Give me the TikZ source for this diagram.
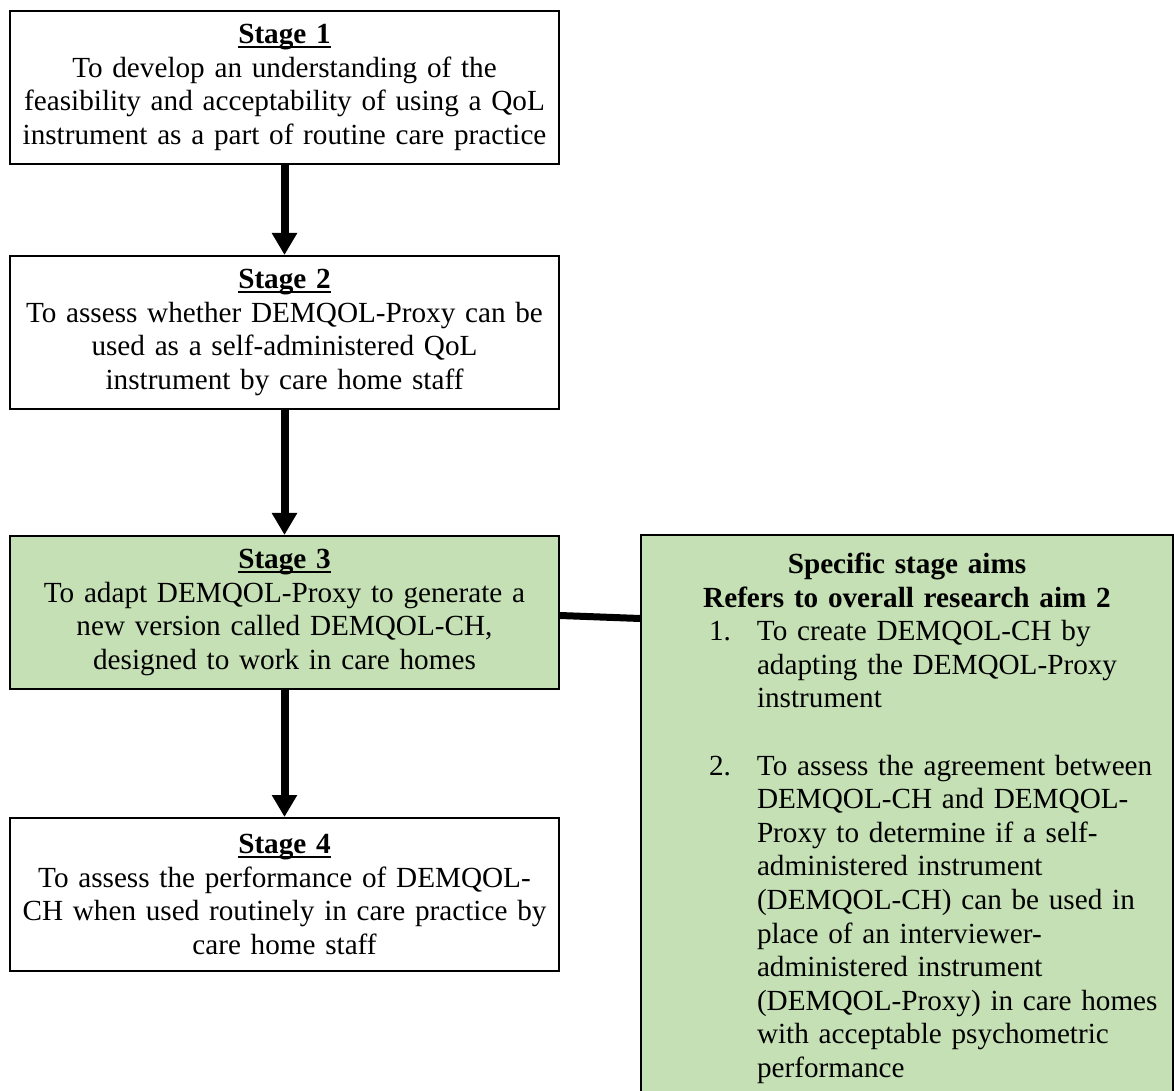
\documentclass[tikz,border=0pt]{standalone}
\usepackage{fontspec}
\setmainfont{Liberation Serif}
\usetikzlibrary{arrows.meta}

\definecolor{aimgreen}{HTML}{C5E0B4}

\newsavebox{\headbox}
\newcommand{\stagehead}[1]{\sbox{\headbox}{\textbf{#1}}\rlap{\rule[-2.4pt]{\wd\headbox}{1pt}}\usebox{\headbox}}
\newlength{\aimswd}
\setlength{\aimswd}{266pt}
\newcommand{\aimline}[2]{\makebox[\aimswd][l]{\hspace{34pt}\makebox[24pt][l]{#1}#2}}

\tikzset{
  every node/.style={font=\fontsize{14.6pt}{16.8pt}\selectfont},
  stagebox/.style={draw=black,line width=1pt,fill=white,anchor=north west,
    inner sep=0pt,text width=274.5pt,minimum height=76.5pt,align=center},
  aimsbox/.style={draw=black,line width=1pt,fill=aimgreen,anchor=north west,
    inner xsep=0pt,inner ysep=9pt,text width=266pt,align=center},
  stagearrow/.style={line width=4pt,-{Triangle[width=12pt,length=11pt]}},
  aimslink/.style={line width=3.5pt}
}

\begin{document}
\begin{tikzpicture}[x=0.5pt,y=-0.5pt]
  \clip (0,0) rectangle (1174,1091);
  \fill[white] (0,0) rectangle (1174,1091);

  % stages
  \node[stagebox] (s1) at (9,10) {\stagehead{Stage 1}\\
    To develop an understanding of the\\
    feasibility and acceptability of using a QoL\\
    instrument as a part of routine care practice};
  \node[stagebox] (s2) at (9,255) {\stagehead{Stage 2}\\
    To assess whether DEMQOL-Proxy can be\\
    used as a self-administered QoL\\
    instrument by care home staff};
  \node[stagebox,fill=aimgreen] (s3) at (9,535) {\stagehead{Stage 3}\\
    To adapt DEMQOL-Proxy to generate a\\
    new version called DEMQOL-CH,\\
    designed to work in care homes};
  \node[stagebox] (s4) at (9,817) {\stagehead{Stage 4}\\
    To assess the performance of DEMQOL-\\
    CH when used routinely in care practice by\\
    care home staff};

  % aims of stage 3
  \node[aimsbox] (aims) at (640,534) {\textbf{Specific stage aims}\\
    \textbf{Refers to overall research aim 2}\\
    \aimline{1.}{To create DEMQOL-CH by}\\
    \aimline{}{adapting the DEMQOL-Proxy}\\
    \aimline{}{instrument}\\
    \aimline{}{}\\
    \aimline{2.}{To assess the agreement between}\\
    \aimline{}{DEMQOL-CH and DEMQOL-}\\
    \aimline{}{Proxy to determine if a self-}\\
    \aimline{}{administered instrument}\\
    \aimline{}{(DEMQOL-CH) can be used in}\\
    \aimline{}{place of an interviewer-}\\
    \aimline{}{administered instrument}\\
    \aimline{}{(DEMQOL-Proxy) in care homes}\\
    \aimline{}{with acceptable psychometric}\\
    \aimline{}{performance}};

  \draw[stagearrow] (s1.south) -- (s2.north);
  \draw[stagearrow] (s2.south) -- (s3.north);
  \draw[stagearrow] (s3.south) -- (s4.north);
  \draw[aimslink] ([yshift=-1.5pt]s3.east) -- ([yshift=-3pt]s3.east -| aims.west);
\end{tikzpicture}
\end{document}
